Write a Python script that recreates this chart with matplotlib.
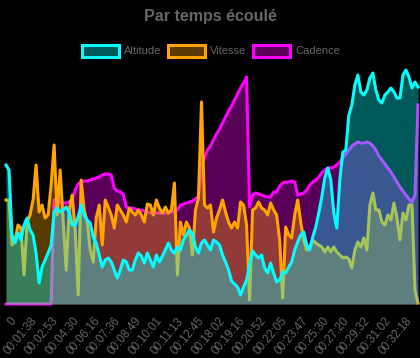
import numpy as np
import matplotlib
matplotlib.use('Agg')
import matplotlib.pyplot as plt
from matplotlib.patches import Rectangle
from matplotlib.colors import to_rgba

# values (relative heights, common sample index)
altitude = [139, 134, 69, 61, 71, 64, 79, 86, 74, 69,
            51, 21, 37, 44, 51, 59, 92, 96, 92, 94,
            97, 92, 79, 79, 87, 99, 89, 84, 81, 67,
            61, 49, 37, 44, 46, 42, 34, 26, 34, 44,
            42, 34, 34, 44, 51, 48, 41, 51, 44, 37,
            49, 42, 48, 54, 61, 54, 51, 57, 54, 64,
            69, 74, 71, 57, 51, 61, 64, 59, 54, 64,
            62, 59, 49, 42, 34, 23, 20, 17, 9, 17,
            24, 39, 53, 49, 46, 49, 36, 31, 41, 31,
            22, 24, 32, 31, 37, 42, 54, 62, 69, 72,
            59, 54, 67, 77, 91, 107, 126, 136, 124, 91,
            76, 124, 152, 154, 189, 199, 219, 229, 212, 209,
            214, 226, 231, 214, 204, 201, 209, 212, 216, 212,
            206, 206, 229, 234, 227, 216, 222, 217]

vitesse = [104, 104, 59, 64, 79, 76, 29, 82, 89, 104,
           139, 92, 99, 86, 89, 119, 159, 89, 134, 84,
           34, 94, 109, 74, 9, 124, 94, 82, 54, 42,
           86, 99, 59, 104, 97, 89, 76, 99, 94, 89,
           82, 96, 92, 89, 94, 89, 82, 100, 99, 89,
           104, 96, 91, 97, 91, 94, 121, 29, 82, 69,
           82, 76, 49, 94, 106, 202, 99, 96, 99, 72,
           86, 94, 104, 92, 82, 76, 82, 76, 102, 99,
           79, 4, 94, 96, 102, 96, 94, 89, 101, 94,
           89, 64, 6, 77, 69, 66, 89, 104, 82, 64,
           54, 57, 64, 61, 59, 57, 52, 57, 52, 57,
           52, 49, 46, 47, 45, 36, 54, 62, 57, 66,
           54, 99, 111, 94, 94, 82, 79, 89, 84, 101,
           86, 64, 91, 84, 99, 99, 14, 1]

cadence = [0, 0, 0, 0, 0, 0, 0, 0, 0, 0,
           0, 0, 0, 0, 0, 0, 104, 104, 102, 101,
           101, 102, 104, 114, 120, 122, 123, 123, 124, 125,
           126, 127, 129, 130, 130, 129, 116, 113, 112, 110,
           97, 96, 96, 95, 94, 94, 93, 92, 91, 91,
           91, 91, 91, 91, 91, 92, 93, 94, 99, 100,
           101, 102, 103, 105, 108, 139, 146, 154, 158, 164,
           170, 175, 181, 187, 193, 198, 204, 210, 216, 221,
           227, 97, 109, 111, 110, 109, 108, 107, 107, 112,
           112, 118, 121, 122, 122, 123, 122, 109, 110, 111,
           114, 119, 122, 124, 127, 131, 134, 136, 136, 137,
           139, 142, 146, 150, 154, 158, 160, 162, 161, 161,
           162, 161, 158, 154, 148, 144, 140, 136, 132, 127,
           122, 117, 113, 109, 105, 102, 109, 199]

tick_labels = ['0', '00:01:38', '00:02:53', '00:04:30', '00:06:16',
               '00:07:36', '00:08:49', '00:10:01', '00:11:13', '00:12:45',
               '00:18:02', '00:19:16', '00:20:52', '00:22:05', '00:23:47',
               '00:25:30', '00:27:20', '00:29:32', '00:31:02', '00:32:18']

series = [('Altitude', altitude, '#00ffff'),
          ('Vitesse', vitesse, '#ffa500'),
          ('Cadence', cadence, '#ff00ff')]

plt.rcParams['font.family'] = ['Liberation Sans', 'DejaVu Sans']
W, H = 420, 358

fig = plt.figure(figsize=(W / 100, H / 100), dpi=100, facecolor='black')
ax = fig.add_axes([6 / W, 54 / H, 412 / W, 236 / H])
ax.set_facecolor('black')

x = np.arange(len(altitude))
# chart.js draws the first dataset on top, so go backwards
for k, (name, vals, color) in enumerate(reversed(series)):
    ax.fill_between(x, 0, vals, color=color, alpha=0.35, linewidth=0,
                    zorder=2 + 2 * k)
    ax.plot(x, vals, color=color, linewidth=2.2, solid_joinstyle='round',
            clip_on=False, zorder=3 + 2 * k)

ax.axhline(0, color='#2b3038', linewidth=0.8, zorder=1)
ax.set_xlim(0, len(altitude) - 1)
ax.set_ylim(0, 236)
for s in ax.spines.values():
    s.set_visible(False)
ax.set_yticks([])
ax.set_xticks(1.3 + 6.92 * np.arange(len(tick_labels)))
ax.set_xticklabels(tick_labels, rotation=50, rotation_mode='anchor',
                   ha='right', va='top', color='#666666', fontsize=8.3)
ax.tick_params(axis='x', length=0, pad=8)

# legend
box_x = [82, 168, 253]
for bx, (name, vals, color) in zip(box_x, series):
    fig.add_artist(Rectangle((bx / W, 1 - 57 / H), 37 / W, 12 / H,
                             transform=fig.transFigure,
                             facecolor=to_rgba(color, 0.35),
                             edgecolor=color, linewidth=2.2))
    fig.text((bx + 42) / W, 1 - 51 / H, name, color='#666666',
             fontsize=8, ha='left', va='center')

fig.text(0.5, 1 - 17 / H, 'Par temps écoulé', ha='center', va='center',
         fontsize=11.5, fontweight='bold', color='#666666')

fig.savefig('out.png', dpi=100, facecolor='black')
